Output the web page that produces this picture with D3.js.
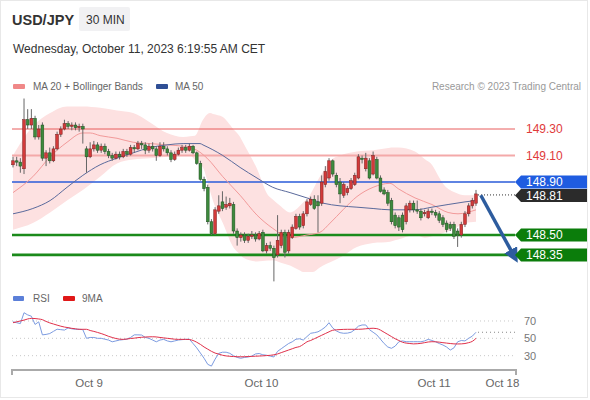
<!DOCTYPE html>
<html><head><meta charset="utf-8">
<script src="https://cdn.jsdelivr.net/npm/d3@7"></script>
<style>body{margin:0;background:#fff;}svg{display:block;font-family:"Liberation Sans",Arial,sans-serif;}</style>
</head><body><svg id="c" width="590" height="400"></svg>
<script>
// ---------- DATA ----------
const openP  = [149.03,149.06,149.05,149.00,149.37,149.33,149.38,149.24,149.33,149.08,149.12,149.06,149.15,149.26,149.30,149.34,149.32,149.33,149.31,149.32,
149.15,149.09,149.15,149.18,149.14,149.17,149.13,149.10,149.08,149.11,149.09,149.13,149.11,149.16,149.15,149.19,149.18,149.14,149.17,149.15,
149.10,149.17,149.15,149.12,149.07,149.11,149.14,149.16,149.14,149.17,149.12,149.04,148.92,148.86,148.60,148.51,148.68,148.75,148.71,148.72,
148.73,148.53,148.48,148.50,148.46,148.49,148.50,148.47,148.52,148.38,148.42,148.40,148.35,148.42,148.52,148.38,148.48,148.55,148.64,148.57,
148.66,148.73,148.77,148.75,148.74,148.88,148.93,149.06,148.95,148.90,148.80,148.82,148.85,148.88,148.93,149.08,149.00,149.06,148.96,149.07,
148.93,148.84,148.82,148.76,148.65,148.63,148.65,148.60,148.69,148.74,148.69,148.68,148.66,148.63,148.68,148.67,148.66,148.63,148.59,148.58,
148.58,148.53,148.50,148.58,148.66,148.72,148.74];
const highP  = [149.09,149.09,149.08,149.53,149.45,149.45,149.40,149.33,149.35,149.14,149.16,149.17,149.28,149.32,149.37,149.36,149.35,149.35,149.34,149.34,
149.17,149.20,149.21,149.20,149.19,149.19,149.15,149.12,149.13,149.13,149.15,149.15,149.18,149.18,149.21,149.21,149.20,149.19,149.20,149.17,
149.20,149.20,149.17,149.14,149.13,149.16,149.18,149.18,149.19,149.18,149.13,149.06,148.94,148.88,148.62,148.71,148.80,148.83,148.79,148.78,
148.75,148.55,148.52,148.52,148.51,148.53,148.52,148.53,148.54,148.44,148.45,148.42,148.65,148.54,148.54,148.54,148.58,148.66,148.66,148.68,
148.77,148.79,148.80,148.80,148.95,149.02,149.08,149.07,148.97,148.93,148.90,148.87,148.93,148.97,149.11,149.10,149.12,149.08,149.13,149.09,
148.95,148.86,148.84,148.78,148.67,148.65,148.67,148.74,148.76,148.76,148.76,148.70,148.69,148.70,148.70,148.69,148.68,148.65,148.61,148.60,
148.60,148.55,148.60,148.68,148.74,148.78,148.84];
const lowP   = [149.01,149.02,148.97,148.96,149.30,149.30,149.22,149.22,149.06,149.02,149.04,149.05,149.14,149.24,149.29,149.30,149.29,149.29,149.28,149.19,
148.97,149.08,149.13,149.12,149.12,149.11,149.08,149.06,149.07,149.07,149.08,149.09,149.10,149.12,149.14,149.15,149.11,149.12,149.13,149.06,
149.09,149.13,149.10,149.05,149.06,149.10,149.12,149.12,149.13,149.11,149.03,148.91,148.83,148.58,148.50,148.50,148.66,148.68,148.69,148.70,
148.51,148.42,148.45,148.44,148.44,148.47,148.45,148.46,148.37,148.36,148.38,148.15,148.33,148.40,148.33,148.36,148.47,148.54,148.54,148.55,
148.64,148.72,148.69,148.52,148.72,148.86,148.91,148.94,148.86,148.74,148.78,148.80,148.84,148.87,148.92,149.04,148.98,148.92,148.95,148.92,
148.82,148.80,148.72,148.58,148.55,148.53,148.52,148.58,148.67,148.67,148.66,148.61,148.64,148.62,148.65,148.63,148.59,148.56,148.52,148.53,
148.47,148.41,148.48,148.56,148.64,148.70,148.72];
const closeP = [149.06,149.05,149.02,149.37,149.33,149.38,149.24,149.30,149.08,149.12,149.06,149.15,149.26,149.30,149.34,149.32,149.33,149.31,149.32,149.30,
149.09,149.15,149.18,149.14,149.17,149.13,149.10,149.08,149.11,149.09,149.13,149.11,149.16,149.15,149.19,149.18,149.14,149.17,149.15,149.10,
149.17,149.15,149.12,149.07,149.11,149.14,149.16,149.14,149.17,149.12,149.04,148.92,148.85,148.60,148.51,148.69,148.72,148.70,148.73,148.74,
148.53,148.48,148.50,148.46,148.49,148.50,148.47,148.51,148.38,148.42,148.40,148.33,148.46,148.52,148.37,148.52,148.56,148.64,148.56,148.66,
148.75,148.77,148.70,148.72,148.90,148.98,149.06,148.96,148.88,148.81,148.88,148.85,148.91,148.95,149.09,149.07,149.08,148.93,149.10,148.93,
148.83,148.81,148.74,148.60,148.57,148.56,148.54,148.72,148.74,148.69,148.68,148.63,148.67,148.68,148.67,148.65,148.61,148.58,148.54,148.55,
148.49,148.50,148.58,148.66,148.72,148.76,148.81];

// indicator samples: [candle index, price]
const ma20 = [[0,148.82],[5.4,148.94],[10.1,149.09],[14.7,149.20],[19,149.27],[21,149.27],[23.7,149.25],[28.3,149.23],[32.7,149.20],[37.3,149.19],
[41.9,149.18],[46.3,149.17],[48.2,149.16],[50,149.14],[52.8,149.08],[57.1,148.94],[61.8,148.80],[66.4,148.65],[70.7,148.55],[75.4,148.48],
[80,148.50],[83.5,148.52],[86.3,148.59],[89.8,148.69],[93.6,148.79],[98,148.86],[102.6,148.89],[104.8,148.85],[109.4,148.78],[114,148.73],
[118.4,148.67],[121.1,148.66],[126,148.69]];
const ma50 = [[0,148.66],[5.4,148.70],[10.1,148.76],[14.7,148.86],[19,148.95],[23.7,149.03],[28.3,149.08],[32.7,149.12],[37.3,149.16],[41.9,149.18],
[46.3,149.19],[50.9,149.19],[51.7,149.18],[57.1,149.10],[61.8,149.01],[66.4,148.93],[70.7,148.86],[75.4,148.82],[80,148.78],[84.4,148.74],
[89,148.72],[93.6,148.71],[98,148.70],[102.6,148.69],[109.4,148.69],[114,148.71],[118.4,148.73],[123,148.75],[126,148.76]];
const bbUpper = [[0,149.10],[5.4,149.32],[10.1,149.42],[14.7,149.47],[19,149.47],[23.7,149.46],[28.3,149.44],[32.7,149.42],[37.3,149.35],[41.9,149.27],
[46.3,149.24],[49.5,149.25],[51.7,149.37],[53.6,149.42],[57.1,149.39],[61.8,149.24],[66.4,149.00],[69.4,148.80],[72.7,148.72],[75.4,148.67],
[78.1,148.72],[80.8,148.80],[83.5,148.94],[86.3,149.06],[89,149.10],[93.6,149.13],[98,149.14],[103.1,149.16],[104.8,149.16],[109.4,149.13],
[114,149.03],[116.7,148.90],[120.3,148.82],[123,148.80],[126,148.80]];
const bbLower = [[0,148.54],[5.4,148.59],[10.1,148.67],[14.7,148.76],[19,148.84],[23.7,148.94],[28.3,149.04],[32.7,149.07],[37.3,149.08],[41.9,149.09],
[46.3,149.10],[48.2,149.10],[51.7,149.01],[54.4,148.76],[57.1,148.59],[59.9,148.41],[62.6,148.33],[66.4,148.30],[70.7,148.31],[75.4,148.27],
[78.9,148.22],[81.6,148.22],[84.4,148.27],[89,148.33],[93.6,148.41],[98,148.44],[102.6,148.45],[109.4,148.50],[112.1,148.48],[115.6,148.50],
[120.3,148.55],[123,148.59],[126,148.60]];

const rsi = [69,68,67,79.5,77,75.5,66,69,54,54.5,55.5,58,60.5,60,59.5,62,61,60.4,60.4,60,
50,51,51,50,50,49,48,46,47,48,48.5,49,51,54,54,53.8,51,50,48,46,
48,48.8,47,46,47,48,48.5,48.8,49,44,39,33,27,20,18,26,32.7,34,34,32.7,
30,28,27,28,28.5,29.5,32,32.5,31,30.5,29.5,28.5,35,38,41,44,46,49,49.5,48,
52,55.8,56.5,57.5,60,63,68,62,58.5,56.5,55.8,56,57,60,64,65.4,65.4,60,57,54,
49,44,40,38.5,41,46,47,46.1,46.1,46.1,46.1,46,47,48.8,47.5,46,44,42.3,40,36.5,
39,46,47.5,47,50,52.5,57];
const rsiMA = [68,69,70,71,72.3,73,72.8,72.3,71.5,69.5,67.8,66.5,65.2,64,63,62.3,61.5,61,60.4,60.4,
60.4,59,58,56.8,55.5,54,52.3,51,49.8,49,48.8,49.2,49.8,50.2,50.8,51.2,51.5,51.7,51.8,51.6,
51,50.5,50,49.5,49,48.8,48.8,48.8,48.6,47.5,45.5,43,40,37.5,35,33,31.8,30.5,29.7,29.3,
29,28.8,28.7,28.8,29,29.2,29.4,29.6,29.8,30.1,30.4,31,32,33.5,35,36.5,38,39.5,40.5,43,
46,47.5,49.5,51.5,53.5,55.5,57.5,59.3,59.8,60.1,60.3,60.4,60.4,60.4,60.4,60.6,61,61.4,61.6,61.2,
59.5,57,54.5,52,49.5,47.5,45.5,44.5,44,43.6,43.8,44.2,45,45.8,46.1,46,45.6,45,44.5,44,
43.6,43.5,43.6,44,45,46.5,50];

const levels = [
  {v:149.30, label:"149.30", kind:"res1"},
  {v:149.10, label:"149.10", kind:"res2"},
  {v:148.90, label:"148.90", kind:"pivot"},
  {v:148.50, label:"148.50", kind:"sup"},
  {v:148.35, label:"148.35", kind:"sup"}
];
const lastPrice = 148.81;
const rsiLevels = [70,50,30];
const xTicks = [{i:20.7,t:"Oct 9"},{i:67.6,t:"Oct 10"},{i:114.6,t:"Oct 11"},{i:133.2,t:"Oct 18"}];
const arrowFrom = [127.3,148.80], arrowTo = [136.4,148.34];

// ---------- SCALES ----------
const svg = d3.select("#c");
const x = d3.scaleLinear().domain([0,126]).range([13,476]);
const y = d3.scaleLinear().domain([148.0,149.6]).range([301.25,89.25]);
const yr = d3.scaleLinear().domain([0,100]).range([381.7,294.95]);
const LX0 = 12, LX1 = 515;

// frame
svg.append("rect").attr("x",0.5).attr("y",0.5).attr("width",587).attr("height",397)
  .attr("fill","none").attr("stroke","#e8e8e8");

// header
svg.append("text").attr("x",12).attr("y",25).attr("font-size",14.5).attr("font-weight","bold").attr("fill","#333").text("USD/JPY");
svg.append("rect").attr("x",79).attr("y",7).attr("width",51).attr("height",24).attr("rx",2).attr("fill","#f1f1f3");
svg.append("text").attr("x",86).attr("y",24).attr("font-size",12).attr("fill","#333").text("30 MIN");
svg.append("text").attr("x",13).attr("y",53).attr("font-size",12).attr("fill","#333").text("Wednesday, October 11, 2023 6:19:55 AM CET");

// legend
svg.append("rect").attr("x",13).attr("y",84).attr("width",12).attr("height",5).attr("rx",1).attr("fill","#f08888");
svg.append("text").attr("x",33).attr("y",90).attr("font-size",10).attr("fill","#666").text("MA 20 + Bollinger Bands");
svg.append("rect").attr("x",156).attr("y",84).attr("width",12).attr("height",5).attr("rx",1).attr("fill","#2f4f95");
svg.append("text").attr("x",175).attr("y",90).attr("font-size",10).attr("fill","#666").text("MA 50");
svg.append("text").attr("x",581).attr("y",90).attr("font-size",10).attr("fill","#999").attr("text-anchor","end").text("Research \u00a9 2023 Trading Central");

// Bollinger band area
const area = d3.area().curve(d3.curveMonotoneX)
  .x(d=>x(d.i)).y0(d=>y(d.lo)).y1(d=>y(d.hi));
const interpU = d3.scaleLinear().domain(bbUpper.map(d=>d[0])).range(bbUpper.map(d=>d[1]));
const interpL = d3.scaleLinear().domain(bbLower.map(d=>d[0])).range(bbLower.map(d=>d[1]));
const bandIdx = Array.from(new Set(bbUpper.map(d=>d[0]).concat(bbLower.map(d=>d[0])))).sort((a,b)=>a-b);
svg.append("path").datum(bandIdx.map(i=>({i, hi:interpU(i), lo:interpL(i)})))
  .attr("d",area).attr("fill","#fde1e1");

// reference lines
const lineColor = {res1:"#e85c5c", res2:"#f4a9a9", pivot:"#2a5bd8", sup:"#1b8a1b"};
const lineW = {res1:1, res2:2, pivot:1.3, sup:2.6};
levels.forEach(l=>{
  svg.append("line").attr("x1",LX0).attr("x2",LX1).attr("y1",y(l.v)).attr("y2",y(l.v))
    .attr("stroke",lineColor[l.kind]).attr("stroke-width",lineW[l.kind]);
});

// MA lines
svg.append("path").datum(ma20).attr("d",d3.line().curve(d3.curveMonotoneX).x(d=>x(d[0])).y(d=>y(d[1])))
  .attr("fill","none").attr("stroke","#f29a9a").attr("stroke-width",1);
svg.append("path").datum(ma50).attr("d",d3.line().curve(d3.curveMonotoneX).x(d=>x(d[0])).y(d=>y(d[1])))
  .attr("fill","none").attr("stroke","#5a6a9c").attr("stroke-width",1);

// candles
const candles = closeP.map((c,i)=>({i,o:openP[i],h:highP[i],l:lowP[i],c}));
const cg = svg.append("g");
cg.selectAll("line").data(candles).join("line")
  .attr("x1",d=>x(d.i)).attr("x2",d=>x(d.i)).attr("y1",d=>y(d.h)).attr("y2",d=>y(d.l))
  .attr("stroke","#666").attr("stroke-width",1);
cg.selectAll("rect").data(candles).join("rect")
  .attr("x",d=>x(d.i)-1.4).attr("width",2.8)
  .attr("y",d=>y(Math.max(d.o,d.c)))
  .attr("height",d=>Math.max(1,Math.abs(y(d.o)-y(d.c))))
  .attr("fill",d=>d.c>=d.o?"#d23a3a":"#3d8a3d")
  .attr("stroke",d=>d.c>=d.o?"#7a1f1f":"#1f4f1f").attr("stroke-width",0.5);

// last price dotted
svg.append("line").attr("x1",x(126)+2).attr("x2",LX1).attr("y1",y(lastPrice)+1).attr("y2",y(lastPrice)+1)
  .attr("stroke","#333").attr("stroke-dasharray","1,2");

// arrow
const defs = svg.append("defs");
defs.append("marker").attr("id","ah").attr("viewBox","0 0 10 10").attr("refX",5).attr("refY",5)
  .attr("markerWidth",4.2).attr("markerHeight",4.2).attr("orient","auto")
  .append("path").attr("d","M0,0 L10,5 L0,10 z").attr("fill","#2d5c9e");
svg.append("line").attr("x1",x(arrowFrom[0])).attr("y1",y(arrowFrom[1]))
  .attr("x2",x(arrowTo[0])).attr("y2",y(arrowTo[1]))
  .attr("stroke","#2d5c9e").attr("stroke-width",3.5).attr("marker-end","url(#ah)");

// right labels / tags
function tag(v,label,fill,off){
  const cy = y(v)+off;
  svg.append("path").attr("d",`M${LX1},${cy} L${LX1+6},${cy-6.5} L587,${cy-6.5} L587,${cy+6.5} L${LX1+6},${cy+6.5} Z`).attr("fill",fill);
  svg.append("text").attr("x",526).attr("y",cy+4.2).attr("font-size",12).attr("fill","#fff").text(label);
}
levels.forEach(l=>{
  if(l.kind==="res1"||l.kind==="res2"){
    svg.append("text").attr("x",526).attr("y",y(l.v)+4.3).attr("font-size",12).attr("fill","#e03a3a").text(l.label);
  } else if(l.kind==="pivot"){ tag(l.v,l.label,"#1f5ce0",0); }
  else { tag(l.v,l.label,"#0b7d0b",0); }
});
tag(lastPrice,"148.81","#2b2b2b",1.5);

// RSI legend
svg.append("rect").attr("x",13).attr("y",296).attr("width",11).attr("height",5).attr("rx",1).attr("fill","#5b7fd8");
svg.append("text").attr("x",33).attr("y",302).attr("font-size",10).attr("fill","#666").text("RSI");
svg.append("rect").attr("x",63).attr("y",296).attr("width",12).attr("height",5).attr("rx",1).attr("fill","#e01818");
svg.append("text").attr("x",82).attr("y",302).attr("font-size",10).attr("fill","#666").text("9MA");

// RSI grid
rsiLevels.forEach(v=>{
  svg.append("line").attr("x1",LX0).attr("x2",LX1).attr("y1",yr(v)).attr("y2",yr(v))
    .attr("stroke","#c8c8c8").attr("stroke-dasharray","1,3");
  svg.append("text").attr("x",524).attr("y",yr(v)+4).attr("font-size",11).attr("fill","#777").text(v);
});
svg.append("path").datum(rsi).attr("d",d3.line().x((d,i)=>x(i)).y(d=>yr(d)))
  .attr("fill","none").attr("stroke","#7c9be0").attr("stroke-width",1);
svg.append("path").datum(rsiMA).attr("d",d3.line().curve(d3.curveMonotoneX).x((d,i)=>x(i)).y(d=>yr(d)))
  .attr("fill","none").attr("stroke","#e0304a").attr("stroke-width",1);
svg.append("line").attr("x1",x(126)+2).attr("x2",LX1).attr("y1",yr(rsi[rsi.length-1])).attr("y2",yr(rsi[rsi.length-1]))
  .attr("stroke","#888").attr("stroke-dasharray","1,3");

// x axis
svg.append("path").attr("d",`M${LX0},375 L${LX0},370 L516,370 L516,375`).attr("fill","none").attr("stroke","#aaa").attr("stroke-width",2);
svg.selectAll(".xt").data(xTicks).join("text").attr("class","xt")
  .attr("x",d=>x(d.i)).attr("y",387).attr("text-anchor","middle").attr("font-size",11.5).attr("fill","#666").text(d=>d.t);
</script></body></html>
